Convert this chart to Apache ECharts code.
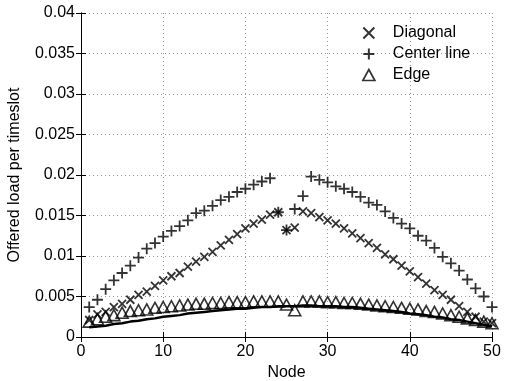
<!DOCTYPE html>
<html>
<head>
<meta charset="utf-8">
<script src="https://cdn.jsdelivr.net/npm/echarts@6/dist/echarts.min.js"></script>
<style>
  html, body { margin: 0; padding: 0; background: #fff; }
  #chart { width: 508px; height: 381px; }
</style>
</head>
<body>
<div id="chart"></div>
<script>
// node index 1..50
const nodes = Array.from({ length: 50 }, (_, i) => i + 1)

const diagonal = [
  0.0021, 0.0028, 0.0031, 0.0037, 0.0041, 0.0046, 0.0052, 0.0056, 0.0063, 0.0070,
  0.0075, 0.0079, 0.0087, 0.0093, 0.0099, 0.0105, 0.0113, 0.0120, 0.0127, 0.0134,
  0.0140, 0.0145, 0.0151, 0.0154, 0.0132, 0.0135, 0.0155, 0.0153, 0.0148, 0.0144,
  0.0140, 0.0134, 0.0128, 0.0122, 0.0116, 0.0110, 0.0102, 0.0096, 0.0088, 0.0081,
  0.0074, 0.0066, 0.0058, 0.0052, 0.0046, 0.0038, 0.0031, 0.0025, 0.0019, 0.0017
]
const centerLine = [
  0.0037, 0.0046, 0.0059, 0.0070, 0.0079, 0.0088, 0.0098, 0.0109, 0.0116, 0.0124,
  0.0131, 0.0137, 0.0144, 0.0153, 0.0156, 0.0162, 0.0169, 0.0173, 0.0179, 0.0183,
  0.0188, 0.0192, 0.0196, 0.0154, 0.0132, 0.0158, 0.0174, 0.0198, 0.0194, 0.0191,
  0.0186, 0.0183, 0.0179, 0.0173, 0.0166, 0.0163, 0.0155, 0.0147, 0.0140, 0.0134,
  0.0125, 0.0119, 0.0110, 0.0099, 0.0091, 0.0082, 0.0071, 0.0060, 0.0050, 0.0037
]
const edge = [
  0.0019, 0.0022, 0.0025, 0.0027, 0.0030, 0.0032, 0.0033, 0.0034, 0.0036, 0.0037,
  0.0038, 0.0039, 0.0040, 0.0041, 0.0041, 0.0042, 0.0042, 0.0043, 0.0043, 0.0043,
  0.0044, 0.0044, 0.0044, 0.0044, 0.0040, 0.0033, 0.0044, 0.0044, 0.0044, 0.0043,
  0.0043, 0.0042, 0.0042, 0.0041, 0.0040, 0.0039, 0.0038, 0.0037, 0.0036, 0.0035,
  0.0034, 0.0032, 0.0031, 0.0029, 0.0027, 0.0025, 0.0023, 0.0021, 0.0019, 0.0017
]
// lower edge band
const edgeLow = [
  0.0012, 0.0013, 0.0014, 0.0016, 0.0017, 0.0019, 0.0020, 0.0022, 0.0023, 0.0025,
  0.0026, 0.0027, 0.0029, 0.0030, 0.0031, 0.0032, 0.0033, 0.0034, 0.0035, 0.0035,
  0.0036, 0.0037, 0.0037, 0.0038, 0.0038, 0.0038, 0.0039, 0.0039, 0.0038, 0.0038,
  0.0038, 0.0037, 0.0037, 0.0036, 0.0035, 0.0034, 0.0033, 0.0032, 0.0031, 0.0029,
  0.0028, 0.0027, 0.0025, 0.0024, 0.0022, 0.0021, 0.0019, 0.0017, 0.0015, 0.0013
]
const xTicks = [0, 10, 20, 30, 40, 50]
const yTicks = [0, 0.005, 0.01, 0.015, 0.02, 0.025, 0.03, 0.035, 0.04]

const crossPath = 'path://M0,0L10,10M0,10L10,0'
const plusPath = 'path://M5,0L5,10M0,5L10,5'
const font = 'Liberation Sans, Arial, Helvetica, sans-serif'

const hollow = (w) => ({ color: 'rgba(0,0,0,0)', borderColor: '#000', borderWidth: w })
const pairs = (arr) => nodes.map((n, i) => [n, arr[i]])

const chart = echarts.init(document.getElementById('chart'), null, { renderer: 'canvas' })

const axisCommon = {
  axisLine: { show: true, lineStyle: { color: '#000', width: 1 } },
  axisTick: { show: true, inside: true, length: 5, lineStyle: { color: '#000' } }
}

const option = {
  animation: false,
  textStyle: { fontFamily: font },
  grid: { left: 81, right: 16, top: 13, bottom: 44, containLabel: false, outerBoundsMode: 'none' },
  legend: {
    orient: 'vertical',
    left: 357,
    top: 20,
    itemWidth: 12,
    itemHeight: 11,
    itemGap: 5,
    textStyle: { fontSize: 16, color: '#000', padding: [0, 0, 0, 13] },
    data: [
      { name: 'Diagonal', icon: crossPath, itemStyle: hollow(2) },
      { name: 'Center line', icon: plusPath, itemStyle: hollow(2) },
      { name: 'Edge', icon: 'triangle', itemStyle: hollow(1.7) }
    ]
  },
  xAxis: [
    Object.assign({}, axisCommon, {
      type: 'value', min: 0, max: 50, interval: 10,
      name: 'Node', nameLocation: 'middle', nameGap: 27,
      nameTextStyle: { fontSize: 16, color: '#000' },
      axisLabel: { fontSize: 16, color: '#000', margin: 7,
        formatter: (v) => xTicks.includes(v) ? String(v) : '' },
      splitLine: { show: true, lineStyle: { color: '#999', type: [1, 3], width: 1 } }
    }),
    Object.assign({}, axisCommon, {
      type: 'value', min: 0, max: 50, interval: 10, position: 'top',
      axisLabel: { show: false }, splitLine: { show: false }
    })
  ],
  yAxis: [
    Object.assign({}, axisCommon, {
      type: 'value', min: 0, max: 0.04, interval: 0.005,
      name: 'Offered load per timeslot', nameLocation: 'middle', nameGap: 58,
      nameTextStyle: { fontSize: 16, color: '#000' },
      axisLabel: { fontSize: 16, color: '#000', margin: 6,
        formatter: (v) => {
          const t = yTicks.find((y) => Math.abs(y - v) < 1e-9)
          return t === undefined ? '' : String(+t.toFixed(3))
        } },
      splitLine: { show: true, lineStyle: { color: '#999', type: [1, 3], width: 1 } }
    }),
    Object.assign({}, axisCommon, {
      type: 'value', min: 0, max: 0.04, interval: 0.005, position: 'right',
      axisLabel: { show: false }, splitLine: { show: false }
    })
  ],
  series: [
    {
      name: 'Edge band', type: 'line', data: pairs(edgeLow),
      showSymbol: false, symbol: 'none', silent: true,
      lineStyle: { color: '#000', width: 2.5 }, z: 2
    },
    {
      name: 'Diagonal', type: 'scatter', data: pairs(diagonal),
      symbol: crossPath, symbolSize: 8, itemStyle: hollow(1.8), z: 3
    },
    {
      name: 'Center line', type: 'scatter', data: pairs(centerLine),
      symbol: plusPath, symbolSize: 11, itemStyle: hollow(1.8), z: 3
    },
    {
      name: 'Edge', type: 'scatter', data: pairs(edge),
      symbol: 'triangle', symbolSize: [12, 11], itemStyle: hollow(1.6), z: 3
    }
  ]
}

chart.setOption(option)
</script>
</body>
</html>
